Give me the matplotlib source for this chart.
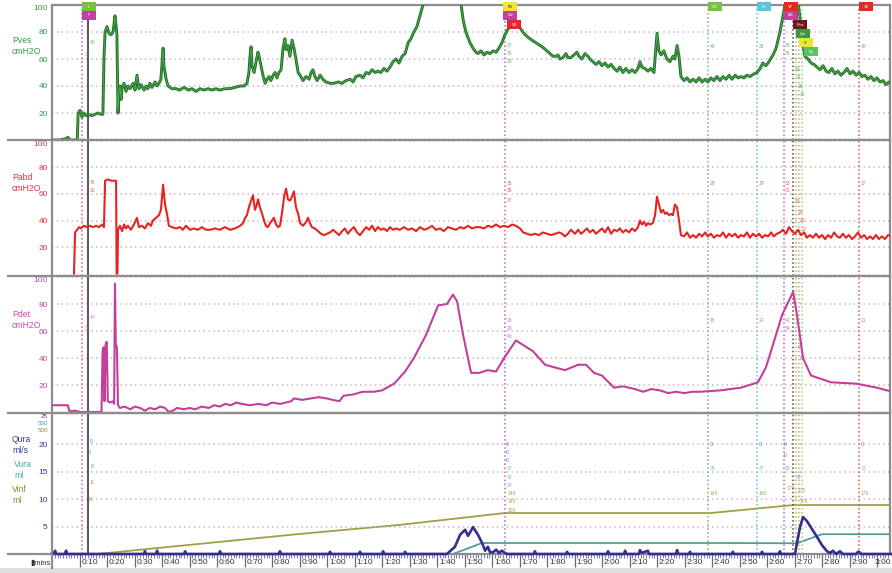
import numpy as np
import matplotlib.pyplot as plt
from matplotlib import patches, lines
from matplotlib.ticker import MultipleLocator
from matplotlib.transforms import ScaledTranslation

plt.rcParams['font.family'] = ['Liberation Sans', 'DejaVu Sans']

# time axis is in tenths of the trace clock ("0:10" = 1, "1:60" = 16 ...)
tick_pos = list(range(1, 31))
tick_labels = ['0:10', '0:20', '0:30', '0:40', '0:50', '0:60', '0:70', '0:80', '0:90',
               '1:00', '1:10', '1:20', '1:30', '1:40', '1:50', '1:60', '1:70', '1:80', '1:90',
               '2:00', '2:10', '2:20', '2:30', '2:40', '2:50', '2:60', '2:70', '2:80', '2:90',
               '3:00']

# vesical pressure, cmH2O
pves = [(0.00, 0), (0.30, 0), (0.50, 1), (0.58, 2), (0.65, 0), (0.92, 0), (0.95, 20), (1.02, 22),
        (1.09, 17), (1.16, 20), (1.24, 18), (1.31, 19), (1.45, 18), (1.56, 19), (1.67, 20), (1.78, 19),
        (1.85, 19), (1.89, 60), (1.93, 80), (2.00, 84), (2.07, 79), (2.15, 78), (2.22, 80), (2.29, 92),
        (2.33, 85), (2.36, 78), (2.40, 20), (2.44, 35), (2.47, 40), (2.51, 30), (2.55, 39), (2.62, 42),
        (2.69, 36), (2.76, 40), (2.84, 38), (2.95, 42), (3.02, 37), (3.09, 48), (3.16, 38), (3.24, 41),
        (3.35, 37), (3.42, 40), (3.49, 38), (3.56, 42), (3.64, 39), (3.75, 43), (3.82, 40), (3.89, 42),
        (3.96, 45), (4.04, 68), (4.07, 55), (4.15, 45), (4.22, 40), (4.36, 38), (4.51, 38), (4.65, 37),
        (4.80, 39), (4.95, 37), (5.09, 38), (5.24, 36), (5.38, 38), (5.53, 37), (5.67, 38), (5.82, 37),
        (5.96, 38), (6.11, 37), (6.29, 38), (6.47, 38), (6.65, 39), (6.84, 40), (6.98, 40), (7.09, 42),
        (7.16, 50), (7.20, 62), (7.24, 69), (7.27, 55), (7.35, 50), (7.42, 58), (7.49, 65), (7.53, 62),
        (7.60, 55), (7.67, 48), (7.75, 42), (7.82, 45), (7.89, 47), (7.96, 44), (8.04, 48), (8.11, 50),
        (8.18, 46), (8.25, 50), (8.33, 52), (8.40, 68), (8.47, 75), (8.51, 67), (8.58, 70), (8.65, 62),
        (8.73, 74), (8.80, 68), (8.87, 60), (8.95, 50), (9.02, 48), (9.13, 44), (9.24, 47), (9.35, 45),
        (9.42, 50), (9.49, 52), (9.56, 47), (9.64, 44), (9.75, 48), (9.85, 45), (9.96, 43), (10.11, 42),
        (10.25, 42), (10.40, 43), (10.55, 42), (10.69, 44), (10.84, 45), (10.95, 43), (11.05, 47),
        (11.20, 48), (11.31, 46), (11.42, 50), (11.53, 49), (11.64, 52), (11.75, 50), (11.85, 51),
        (11.96, 50), (12.07, 53), (12.18, 51), (12.29, 54), (12.40, 58), (12.51, 60), (12.62, 57),
        (12.73, 62), (12.84, 64), (12.95, 72), (13.05, 75), (13.16, 80), (13.27, 84), (13.38, 92),
        (13.49, 100), (13.60, 106), (14.11, 120), (14.65, 115), (14.84, 106), (14.95, 89), (15.05, 80),
        (15.20, 72), (15.31, 68), (15.42, 65), (15.49, 64), (15.60, 66), (15.71, 63), (15.82, 65),
        (15.93, 64), (16.04, 66), (16.15, 65), (16.25, 68), (16.36, 72), (16.47, 78), (16.58, 82),
        (16.69, 85), (16.80, 86), (16.91, 84), (17.02, 83), (17.16, 79), (17.31, 76), (17.45, 74),
        (17.60, 72), (17.75, 70), (17.89, 68), (18.00, 66), (18.11, 64), (18.22, 62), (18.33, 62),
        (18.40, 63), (18.47, 60), (18.58, 61), (18.69, 64), (18.76, 61), (18.87, 61), (18.98, 63),
        (19.09, 65), (19.16, 62), (19.27, 60), (19.38, 64), (19.49, 62), (19.56, 60), (19.67, 58),
        (19.78, 56), (19.89, 58), (20.00, 55), (20.11, 57), (20.22, 54), (20.33, 56), (20.44, 53),
        (20.55, 51), (20.65, 54), (20.76, 50), (20.87, 53), (20.98, 50), (21.09, 52), (21.20, 50),
        (21.31, 53), (21.38, 58), (21.45, 54), (21.56, 53), (21.67, 51), (21.78, 53), (21.89, 50),
        (22.00, 79), (22.07, 66), (22.15, 63), (22.25, 66), (22.36, 60), (22.47, 58), (22.58, 62),
        (22.65, 60), (22.73, 70), (22.80, 62), (22.87, 47), (22.98, 44), (23.09, 46), (23.20, 43),
        (23.31, 45), (23.42, 43), (23.53, 46), (23.64, 43), (23.75, 45), (23.85, 43), (23.96, 46),
        (24.07, 44), (24.18, 47), (24.29, 44), (24.40, 47), (24.51, 45), (24.62, 48), (24.73, 45),
        (24.84, 48), (24.95, 46), (25.05, 47), (25.16, 46), (25.27, 48), (25.38, 47), (25.53, 49),
        (25.64, 50), (25.75, 53), (25.85, 57), (25.96, 55), (26.07, 58), (26.22, 63), (26.33, 68),
        (26.47, 80), (26.62, 96), (26.73, 110), (27.09, 110), (27.20, 90), (27.27, 75), (27.38, 62),
        (27.49, 60), (27.60, 57), (27.71, 56), (27.82, 54), (27.93, 52), (28.04, 55), (28.15, 51),
        (28.25, 50), (28.36, 53), (28.47, 49), (28.58, 51), (28.69, 48), (28.80, 50), (28.91, 53),
        (29.02, 49), (29.13, 51), (29.24, 48), (29.35, 50), (29.45, 47), (29.56, 48), (29.67, 45),
        (29.78, 47), (29.89, 44), (30.00, 46), (30.11, 43), (30.22, 44), (30.33, 41), (30.44, 43),
        (30.55, 42)]

# abdominal pressure, cmH2O
pabd = [(0.80, 0), (0.84, 31), (0.91, 33), (0.98, 35), (1.05, 34), (1.16, 36), (1.27, 35), (1.38, 36),
        (1.49, 35), (1.60, 36), (1.71, 35), (1.82, 37), (1.89, 35), (1.93, 70), (2.04, 71), (2.15, 70),
        (2.33, 70), (2.35, 0), (2.38, 0), (2.40, 33), (2.47, 36), (2.55, 32), (2.62, 37), (2.69, 34),
        (2.76, 36), (2.87, 33), (2.98, 37), (3.09, 42), (3.16, 35), (3.27, 36), (3.38, 34), (3.49, 38),
        (3.60, 36), (3.67, 40), (3.78, 42), (3.89, 44), (3.96, 48), (4.04, 67), (4.11, 52), (4.18, 45),
        (4.25, 36), (4.36, 35), (4.51, 34), (4.65, 35), (4.76, 33), (4.87, 36), (5.02, 33), (5.16, 34),
        (5.31, 33), (5.45, 35), (5.60, 33), (5.75, 33), (5.93, 34), (6.11, 33), (6.29, 35), (6.47, 33),
        (6.65, 34), (6.84, 36), (6.95, 38), (7.02, 42), (7.09, 44), (7.16, 50), (7.24, 55), (7.31, 59),
        (7.38, 48), (7.45, 52), (7.49, 56), (7.56, 50), (7.64, 45), (7.71, 40), (7.78, 36), (7.85, 35),
        (7.93, 38), (8.00, 40), (8.07, 42), (8.15, 37), (8.22, 35), (8.29, 36), (8.36, 45), (8.44, 58),
        (8.51, 64), (8.58, 56), (8.65, 55), (8.73, 58), (8.80, 62), (8.87, 50), (8.95, 45), (9.02, 38),
        (9.13, 36), (9.24, 39), (9.31, 42), (9.38, 38), (9.45, 35), (9.56, 34), (9.67, 32), (9.78, 30),
        (9.89, 29), (10.00, 30), (10.11, 31), (10.22, 33), (10.33, 31), (10.44, 29), (10.55, 32),
        (10.65, 34), (10.76, 30), (10.87, 33), (10.98, 35), (11.09, 31), (11.20, 29), (11.31, 32),
        (11.42, 35), (11.53, 33), (11.64, 36), (11.75, 32), (11.85, 35), (11.96, 33), (12.07, 34),
        (12.18, 32), (12.29, 35), (12.40, 33), (12.51, 34), (12.65, 33), (12.80, 35), (12.95, 33),
        (13.09, 34), (13.24, 32), (13.38, 35), (13.53, 33), (13.67, 34), (13.82, 36), (13.96, 33),
        (14.11, 34), (14.25, 32), (14.40, 35), (14.55, 34), (14.69, 33), (14.84, 35), (14.98, 34),
        (15.13, 36), (15.27, 34), (15.42, 35), (15.56, 35), (15.71, 34), (15.85, 36), (16.00, 35),
        (16.15, 37), (16.29, 35), (16.44, 36), (16.58, 35), (16.73, 37), (16.87, 36), (17.02, 34),
        (17.13, 31), (17.27, 30), (17.42, 29), (17.56, 30), (17.71, 29), (17.85, 31), (18.00, 30),
        (18.15, 29), (18.29, 30), (18.44, 31), (18.55, 30), (18.65, 28), (18.76, 30), (18.87, 33),
        (19.02, 30), (19.13, 33), (19.24, 30), (19.35, 32), (19.45, 34), (19.56, 31), (19.67, 33),
        (19.78, 30), (19.89, 32), (20.00, 34), (20.11, 31), (20.22, 35), (20.33, 30), (20.44, 33),
        (20.55, 32), (20.65, 34), (20.76, 31), (20.87, 33), (20.98, 31), (21.09, 34), (21.20, 32),
        (21.31, 35), (21.38, 40), (21.45, 37), (21.53, 39), (21.60, 36), (21.67, 38), (21.75, 37),
        (21.85, 38), (21.93, 44), (22.00, 58), (22.07, 52), (22.15, 46), (22.22, 48), (22.29, 45),
        (22.36, 46), (22.44, 44), (22.51, 45), (22.58, 44), (22.65, 52), (22.73, 50), (22.80, 40),
        (22.87, 29), (22.98, 28), (23.09, 31), (23.20, 27), (23.31, 29), (23.42, 27), (23.53, 30),
        (23.64, 28), (23.75, 31), (23.85, 28), (23.96, 30), (24.07, 27), (24.18, 29), (24.29, 28),
        (24.40, 31), (24.51, 27), (24.62, 30), (24.73, 28), (24.84, 30), (24.95, 27), (25.05, 29),
        (25.16, 28), (25.27, 31), (25.38, 27), (25.49, 30), (25.60, 28), (25.71, 30), (25.82, 27),
        (25.93, 29), (26.04, 28), (26.15, 31), (26.25, 28), (26.36, 30), (26.47, 31), (26.58, 33),
        (26.69, 30), (26.80, 35), (26.91, 32), (27.02, 30), (27.13, 33), (27.24, 29), (27.35, 31),
        (27.45, 27), (27.56, 29), (27.67, 27), (27.78, 30), (27.89, 27), (28.00, 29), (28.11, 26),
        (28.22, 29), (28.33, 27), (28.44, 31), (28.55, 28), (28.65, 27), (28.76, 30), (28.87, 27),
        (28.98, 29), (29.09, 26), (29.20, 28), (29.31, 31), (29.42, 27), (29.53, 29), (29.64, 26),
        (29.75, 28), (29.85, 26), (29.96, 29), (30.07, 26), (30.18, 28), (30.29, 26), (30.40, 29),
        (30.55, 28)]

# detrusor pressure, cmH2O
pdet = [(0.00, 5), (0.58, 5), (0.62, 1), (0.73, 0.5), (0.84, 1), (1.02, 0), (1.80, 0), (1.84, 45),
        (1.88, 48), (1.91, 8), (1.95, 50), (1.99, 52), (2.03, 8), (2.11, 7), (2.22, 8), (2.26, 6),
        (2.29, 95), (2.32, 50), (2.36, 48), (2.40, 5), (2.47, 3), (2.65, 4), (2.84, 2), (3.02, 4),
        (3.20, 3), (3.38, 1), (3.56, 3), (3.75, 2), (3.93, 4), (4.11, 3), (4.25, 0), (4.40, 1),
        (4.55, 3), (4.80, 2), (5.00, 3), (5.20, 2), (5.45, 4), (5.70, 3), (5.90, 5), (6.10, 4),
        (6.30, 6), (6.50, 5), (6.70, 7), (6.90, 6), (7.20, 5), (7.50, 6), (7.80, 5), (8.00, 7),
        (8.30, 6), (8.70, 8), (8.80, 10), (9.10, 9), (9.40, 10), (9.70, 11), (10.00, 10), (10.20, 9),
        (10.45, 8), (10.60, 12), (10.95, 13), (11.30, 15), (11.70, 15), (12.00, 16), (12.44, 21),
        (12.84, 30), (13.16, 40), (13.60, 57), (14.04, 79), (14.36, 80), (14.58, 87), (14.73, 82),
        (14.95, 57), (15.24, 29), (15.53, 29), (15.85, 31), (16.15, 30), (16.44, 40), (16.87, 53),
        (17.49, 45), (17.93, 35), (18.65, 31), (19.13, 35), (19.42, 35), (19.71, 29), (20.00, 27),
        (20.44, 18), (20.76, 19), (21.20, 17), (21.50, 15), (21.80, 17), (22.11, 16), (22.40, 14),
        (22.70, 15), (23.00, 14), (23.30, 15), (23.56, 15), (24.30, 16), (25.05, 18), (25.67, 22),
        (25.96, 33), (26.25, 52), (26.55, 72), (26.95, 89), (27.09, 72), (27.31, 40), (27.60, 27),
        (28.33, 22), (29.24, 21), (30.00, 18), (30.55, 15)]

# urethral flow, ml/s
qura = [(0.00, 0), (0.07, 0), (0.11, 0.6), (0.15, 0), (0.47, 0), (0.51, 0.6), (0.55, 0), (3.34, 0),
        (3.38, 0.5), (3.42, 0), (3.78, 0), (3.82, 0.6), (3.86, 0), (4.80, 0), (4.84, 0.5), (4.88, 0),
        (6.07, 0), (6.11, 0.5), (6.15, 0), (8.25, 0), (8.29, 0.5), (8.33, 0), (10.07, 0), (10.11, 0.4),
        (10.15, 0), (11.16, 0), (11.20, 0.4), (11.24, 0), (12.00, 0), (12.04, 0.5), (12.08, 0),
        (12.80, 0), (12.84, 0.4), (12.88, 0), (14.36, 0), (14.47, 0.5), (14.65, 1.3), (14.84, 3.5),
        (15.02, 4.4), (15.13, 3.3), (15.31, 4.9), (15.49, 3.5), (15.64, 2.0), (15.75, 0.6),
        (15.85, 1.3), (15.93, 0.3), (16.04, 0.3), (16.15, 0.8), (16.25, 0.2), (16.36, 0.6),
        (16.47, 0.2), (16.55, 0), (17.52, 0), (17.56, 0.5), (17.60, 0), (18.69, 0), (18.73, 0.4),
        (18.77, 0), (20.18, 0), (20.22, 0.5), (20.26, 0), (20.80, 0), (20.84, 0.6), (20.88, 0),
        (21.34, 0), (21.38, 0.7), (21.45, 0.2), (21.67, 0.6), (21.71, 0), (22.69, 0), (22.73, 0.7),
        (22.77, 0), (23.16, 0), (23.20, 0.4), (23.24, 0), (24.72, 0), (24.76, 0.4), (24.80, 0),
        (25.78, 0), (25.82, 0.4), (25.86, 0), (26.43, 0), (26.47, 0.5), (26.51, 0), (27.02, 0),
        (27.09, 2.0), (27.20, 4.9), (27.31, 6.7), (27.45, 6.0), (27.64, 4.5), (27.82, 3.1),
        (28.00, 1.6), (28.18, 0.5), (28.29, 0.2), (28.40, 0.6), (28.51, 0), (28.65, 0.5), (28.76, 0),
        (29.24, 0), (29.31, 0.4), (29.38, 0.3), (29.42, 0), (30.55, 0)]

# voided and infused volumes, ml
vura = [(0.00, 0), (14.58, 0), (15.64, 40), (24.50, 40), (27.09, 39), (28.00, 72), (30.55, 72)]
vinf = [(1.64, 0), (9.02, 73), (12.65, 106), (16.47, 149), (23.96, 149), (26.95, 178), (30.55, 178)]

# event cursors: time, colour, style
cursors = [(1.09, '#c55bb5', ':'), (1.31, '#4a4a4a', '-'), (16.47, '#c55bb5', ':'),
           (23.85, '#6cb86c', ':'), (25.64, '#5cc0cc', ':'), (26.60, '#c55bb5', ':'),
           (26.95, '#4a4a4a', ':'), (27.05, '#b8b860', ':'), (27.15, '#b8b860', ':'),
           (27.27, '#9ccc7a', ':'), (29.35, '#d9534f', ':')]

# event flags on the top trace: time, stack level, colour, text
flags = [(1.09, 0, '#7ac142', 'L'), (1.09, 1, '#c23fa0', 'F'),
         (16.40, 0, '#f2e23a', 'FS'), (16.40, 1, '#c23fa0', 'ND'), (16.55, 2, '#e02a26', 'SD'),
         (23.85, 0, '#7ac142', 'CO'), (25.64, 0, '#55c8e0', 'LK'),
         (26.60, 0, '#e02a26', 'VP'), (26.60, 1, '#c23fa0', 'MC'), (26.95, 2, '#6a1a1a', 'Pmx'),
         (27.05, 3, '#3c9a3c', 'Qm'), (27.15, 4, '#e8e83a', 'V'), (27.33, 5, '#5cc05c', 'Pq'),
         (29.35, 0, '#e02a26', 'VE')]

# cursor read-outs: panel, time, value, text
readouts = [(0, 1.36, 72, '48'), (0, 1.20, 63, '36'),
            (0, 16.55, 70, '37'), (0, 16.55, 64, '36'), (0, 16.55, 58, '29'),
            (0, 23.92, 69, '48'), (0, 25.70, 69, '29'), (0, 26.66, 70, '39'), (0, 26.66, 64, '36'),
            (0, 27.00, 52, '53'), (0, 27.06, 46, '47'), (0, 27.12, 40, '38'), (0, 27.20, 34, '36'),
            (0, 29.42, 69, '48'),
            (1, 1.36, 69, '36'), (1, 1.36, 63, '33'),
            (1, 16.55, 68, '35'), (1, 16.55, 63, '35'), (1, 16.55, 55, '37'),
            (1, 23.92, 68, '29'), (1, 25.70, 68, '29'), (1, 26.66, 68, '33'), (1, 26.66, 63, '31'),
            (1, 27.02, 54, '30'), (1, 27.10, 46, '28'), (1, 27.18, 40, '29'), (1, 27.27, 33, '27'),
            (1, 29.42, 68, '27'),
            (2, 1.38, 70, '47'), (2, 1.20, 62, '36'),
            (2, 16.55, 68, '28'), (2, 16.55, 62, '29'), (2, 16.55, 56, '40'),
            (2, 23.92, 68, '18'), (2, 25.70, 68, '20'), (2, 26.66, 68, '42'), (2, 26.66, 62, '39'),
            (2, 27.08, 48, '48'), (2, 27.18, 40, '37'),
            (2, 29.42, 68, '21')]

flow_readouts = [(1.36, 20.5, '0', 'q'), (1.30, 18.5, '0', 'q'), (1.36, 16.0, '16', 'u'),
                 (1.36, 13.0, '11', 'i'), (1.30, 10.0, '10', 'i'),
                 (16.50, 20.0, '0', 'q'), (16.50, 18.5, '0', 'q'), (16.50, 17.0, '0', 'q'),
                 (16.55, 15.5, '37', 'u'), (16.55, 14.0, '38', 'u'), (16.55, 12.5, '38', 'u'),
                 (16.55, 11.0, '148', 'i'), (16.55, 9.5, '149', 'i'), (16.55, 8.0, '150', 'i'),
                 (23.92, 20.0, '0', 'q'), (23.92, 15.5, '39', 'u'), (23.92, 11.0, '149', 'i'),
                 (25.70, 20.0, '0', 'q'), (25.70, 15.5, '37', 'u'), (25.70, 11.0, '160', 'i'),
                 (26.62, 20.0, '0', 'q'), (26.62, 18.0, '0', 'q'), (26.66, 15.5, '39', 'u'),
                 (26.70, 12.0, '173', 'i'), (27.05, 14.0, '39', 'u'), (27.12, 11.5, '175', 'i'),
                 (27.20, 9.5, '178', 'i'),
                 (29.42, 20.0, '0', 'q'), (29.42, 15.5, '73', 'u'), (29.42, 11.0, '178', 'i')]

W, H = 892, 573
X0, X1 = 52, 890
PX_PER_T = 27.5

C_PVES, C_PABD, C_PDET = '#23702a', '#e52421', '#c2409c'
C_QURA, C_VURA, C_VINF = '#322f8e', '#4f9f98', '#a29f45'
L_PVES, L_PABD, L_PDET = '#30a050', '#e8333a', '#c84aa8'
L_QURA, L_VURA, L_VINF = '#3d3a96', '#4aa8a0', '#8d8a2e'
FRAME = '#8d8d8d'
GRID = '#cfb3c6'


def xy(pairs):
    a = np.array(pairs, dtype=float)
    return a[:, 0], a[:, 1]


def rect(top, bottom):
    # pixel rows of a strip -> figure fraction box
    return [X0 / W, 1 - bottom / H, (X1 - X0) / W, (bottom - top) / H]


fig = plt.figure(figsize=(W / 100, H / 100), dpi=100)
fig.patch.set_facecolor('white')

ax1 = fig.add_axes(rect(5, 140))
ax2 = fig.add_axes(rect(140, 276.5))
ax3 = fig.add_axes(rect(276.5, 413))
ax4 = fig.add_axes(rect(413, 554))
ax4v = ax4.twinx()

xmax = (X1 - X0) / PX_PER_T
ax1.set_ylim(0, 100)
ax2.set_ylim(-2.26, 100.75)
ax3.set_ylim(-0.74, 100.4)
ax4.set_ylim(0, 25.64)
ax4v.set_ylim(0, 25.64 * 20)
ax4v.axis('off')
ax4.set_zorder(ax4v.get_zorder() + 1)
ax4.patch.set_visible(False)

panels = [(ax1, [20, 40, 60, 80, 100], L_PVES),
          (ax2, [20, 40, 60, 80, 100], L_PABD),
          (ax3, [20, 40, 60, 80, 100], L_PDET),
          (ax4, [5, 10, 15, 20], L_QURA)]
for ax, yt, col in panels:
    ax.set_xlim(0, xmax)
    ax.set_yticks(yt)
    ax.tick_params(axis='y', colors=col, length=0, pad=3, labelsize=6)
    if ax is not ax4:
        ax.yaxis.get_major_ticks()[-1].label1.set_va('top')
    ax.grid(axis='y', color=GRID, linestyle=(0, (1, 2.2)), linewidth=1.1)
    ax.set_axisbelow(True)
    for s in ax.spines.values():
        s.set_color(FRAME)
        s.set_linewidth(1.6)
    if ax is not ax4:
        ax.set_xticks([])

# time axis along the bottom strip
ax4.set_xticks(tick_pos)
ax4.set_xticklabels(tick_labels)
ax4.xaxis.set_minor_locator(MultipleLocator(0.1))
ax4.tick_params(axis='x', which='major', length=9.4, width=0.9, color='#6a62a0',
                labelsize=6, pad=-5.6, labelcolor='#333333')
ax4.tick_params(axis='x', which='minor', length=2.6, width=0.6, color='#6a62a0')
shift = ScaledTranslation(2 / 100, 0, fig.dpi_scale_trans)
last_shift = ScaledTranslation(14 / 100, 0, fig.dpi_scale_trans)
xlabels = ax4.get_xticklabels()
for lbl in xlabels[:-1]:
    lbl.set_ha('left')
    lbl.set_transform(lbl.get_transform() + shift)
xlabels[-1].set_ha('right')
xlabels[-1].set_transform(xlabels[-1].get_transform() + last_shift)

# event cursors through every panel
for ax in (ax1, ax2, ax3, ax4):
    for t, col, ls in cursors:
        ax.axvline(t, color=col, linestyle=ls, linewidth=1.3 if ls == '-' else 1.1, zorder=1.5)

# traces
t, v = xy(pves)
ax1.plot(t, v, color=C_PVES, lw=2.1, zorder=3)
ax1.plot(t, v, color='#4fae4f', lw=0.6, zorder=3.1)
t, v = xy(pabd)
ax2.plot(t, v, color=C_PABD, lw=1.5, zorder=3)
t, v = xy(pdet)
ax3.plot(t, v, color=C_PDET, lw=1.5, zorder=3)
t, v = xy(vinf)
ax4v.plot(t, v, color=C_VINF, lw=1.3)
t, v = xy(vura)
ax4v.plot(t, v, color=C_VURA, lw=1.3)
t, v = xy(qura)
ax4.plot(t, v, color=C_QURA, lw=1.9, zorder=3, clip_on=False)

# flags above the vesical trace
xtr = ax1.get_xaxis_transform()
bw, bh = 14 / PX_PER_T, 9 / 135
for t0, lvl, col, txt in flags:
    y_top = 1 + (3 - 9 * lvl) / 135
    ax1.add_patch(patches.Rectangle((t0, y_top - bh), bw, bh, transform=xtr,
                                    facecolor=col, edgecolor='none', clip_on=False, zorder=5))
    ax1.text(t0 + bw / 2, y_top - bh / 2, txt, transform=xtr, ha='center', va='center',
             fontsize=2.8, color='#202020' if col in ('#f2e23a', '#e8e83a') else 'white',
             clip_on=False, zorder=6)

# small cursor read-outs
axes3 = (ax1, ax2, ax3)
ro_cols = (L_PVES, L_PABD, L_PDET)
for p, t0, yv, txt in readouts:
    axes3[p].text(t0, yv, txt, fontsize=3.6, color=ro_cols[p], alpha=0.75, va='center', zorder=4)
flow_cols = {'q': L_QURA, 'u': L_VURA, 'i': L_VINF}
for t0, yv, txt, k in flow_readouts:
    ax4.text(t0, yv, txt, fontsize=3.6, color=flow_cols[k], alpha=0.75, va='center', zorder=4)

# channel names in the left margin
fig.text(12 / W, 1 - 46 / H, 'Pves\ncmH2O', color=L_PVES, fontsize=6.2, va='center', linespacing=1.2)
fig.text(12 / W, 1 - 183 / H, 'Pabd\ncmH2O', color=L_PABD, fontsize=6.2, va='center', linespacing=1.2)
fig.text(12 / W, 1 - 320 / H, 'Pdet\ncmH2O', color=L_PDET, fontsize=6.2, va='center', linespacing=1.2)
fig.text(12 / W, 1 - 445 / H, 'Qura\nml/s', color=L_QURA, fontsize=6.2, va='center', linespacing=1.2)
fig.text(14 / W, 1 - 470 / H, 'Vura\nml', color=L_VURA, fontsize=6.2, va='center', linespacing=1.2)
fig.text(12 / W, 1 - 495 / H, 'Vinf\nml', color=L_VINF, fontsize=6.2, va='center', linespacing=1.2)
# stacked full-scale values of the flow / volume strip
fig.text(48 / W, 1 - 416.5 / H, '25', color=L_QURA, fontsize=4.5, ha='right', va='center')
fig.text(48 / W, 1 - 423.5 / H, '500', color=L_VURA, fontsize=4.5, ha='right', va='center')
fig.text(48 / W, 1 - 430.5 / H, '500', color=L_VINF, fontsize=4.5, ha='right', va='center')
fig.text(30 / W, 1 - 563 / H, '\u25aemins', color='#333333', fontsize=5.5, va='center')

# frame pieces in the label margin and bottom band
for yp in (140, 276.5, 413, 554):
    fig.add_artist(lines.Line2D([8 / W, X0 / W], [1 - yp / H] * 2, color=FRAME, lw=1.6))
fig.add_artist(lines.Line2D([X0 / W] * 2, [1 - 554 / H, 1 - 568 / H], color=FRAME, lw=1.6))
fig.add_artist(patches.Rectangle((0, 0), 1, 5 / H, transform=fig.transFigure,
                                 facecolor='#dedede', edgecolor='none'))

fig.savefig('out.png', dpi=100)
